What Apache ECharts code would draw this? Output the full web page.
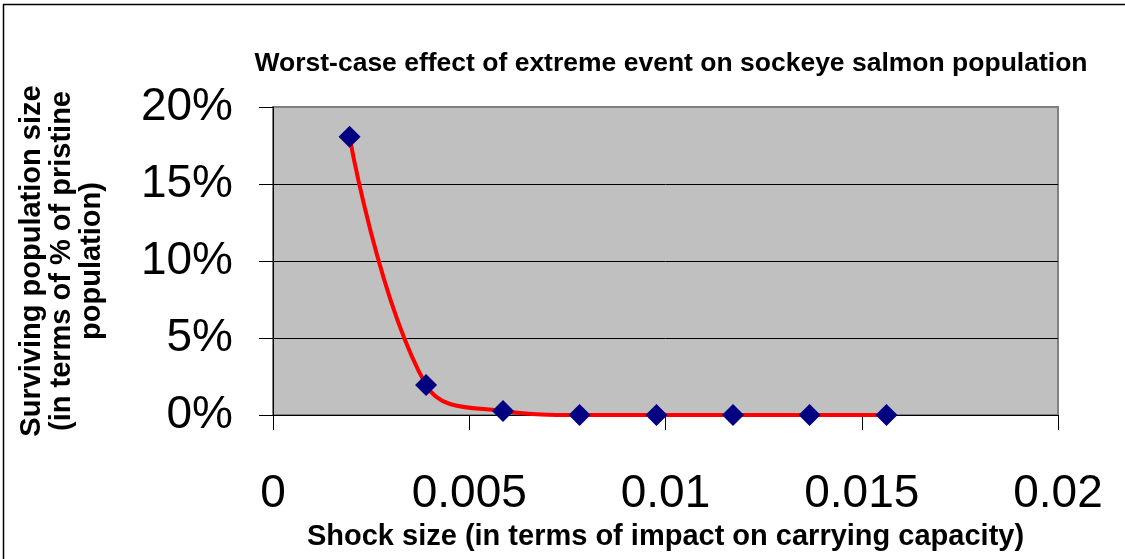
<!DOCTYPE html>
<html style="height: 100%">
   <head>
       <meta charset="utf-8">
   </head>
   <body style="height: 100%;margin: 0;background:#fff">
       <div id="container" style="height: 559px; width:1125px;"></div>
       <script type="text/javascript" src="https://cdn.jsdelivr.net/npm/echarts@6/dist/echarts.min.js"></script>
       <script type="text/javascript">

// shock size (fraction of carrying capacity)
var shockSize = [0.00195, 0.0039, 0.00586, 0.00781, 0.00977, 0.01172, 0.01367, 0.01563];
// surviving population (fraction of pristine)
var surviving = [0.1807, 0.0195, 0.0026, 0, 0, 0, 0, 0];

var titleText = 'Worst-case effect of extreme event on sockeye salmon population';
var xName = 'Shock size (in terms of impact on carrying capacity)';
var yName = 'Surviving population size\n(in terms of % of pristine\npopulation)';

var data = [];
for (var i = 0; i < shockSize.length; i++) {
    data.push([shockSize[i], surviving[i]]);
}

var dom = document.getElementById("container");
var myChart = echarts.init(dom);
var font = '"Liberation Sans", Arial, sans-serif';

option = {
    animation: false,
    backgroundColor: '#fff',
    title: {
        text: titleText,
        left: 666,
        top: 45,
        textAlign: 'center',
        textStyle: {
            fontFamily: font,
            fontSize: 26.5,
            fontWeight: 'bold',
            color: '#000'
        }
    },
    graphic: [
        { type: 'line', shape: { x1: 3, y1: 4.5, x2: 1125, y2: 4.5 }, style: { stroke: '#000', lineWidth: 1.5 } },
        { type: 'line', shape: { x1: 3.5, y1: 4, x2: 3.5, y2: 559 }, style: { stroke: '#000', lineWidth: 1.5 } }
    ],
    grid: {
        left: 273,
        right: 67,
        top: 107,
        bottom: 144,
        show: true,
        backgroundColor: '#c0c0c0',
        borderColor: '#808080',
        borderWidth: 2
    },
    xAxis: {
        type: 'value',
        min: 0,
        max: 0.02,
        interval: 0.005,
        name: xName,
        nameLocation: 'middle',
        nameGap: 107,
        nameTextStyle: {
            fontFamily: font,
            fontSize: 29,
            fontWeight: 'bold',
            color: '#000'
        },
        axisLine: { show: true, lineStyle: { color: '#000', width: 1 } },
        axisTick: { show: true, length: 15, lineStyle: { color: '#000' } },
        axisLabel: {
            margin: 56,
            fontFamily: font,
            fontSize: 46,
            color: '#000',
            formatter: function (v) { return String(+v.toFixed(3)); }
        },
        splitLine: { show: false }
    },
    yAxis: {
        type: 'value',
        min: 0,
        max: 0.2,
        interval: 0.05,
        name: yName,
        nameLocation: 'middle',
        nameRotate: 90,
        nameGap: 166,
        nameTextStyle: {
            fontFamily: font,
            fontSize: 29,
            fontWeight: 'bold',
            lineHeight: 30,
            align: 'center',
            color: '#000'
        },
        axisLine: { show: true, lineStyle: { color: '#000', width: 1 } },
        axisTick: { show: true, length: 14, lineStyle: { color: '#000' } },
        axisLabel: {
            margin: 40,
            fontFamily: font,
            fontSize: 46,
            color: '#000',
            formatter: function (v) { return Math.round(v * 100) + '%'; }
        },
        splitLine: { show: true, showMaxLine: false, lineStyle: { color: '#000', width: 1 } }
    },
    series: [{
        type: 'line',
        data: data,
        smooth: 0.4,
        symbol: 'diamond',
        symbolSize: 22,
        itemStyle: { color: '#000080' },
        lineStyle: { color: '#ff0000', width: 4 }
    }]
};

myChart.setOption(option);

       </script>
   </body>
</html>
